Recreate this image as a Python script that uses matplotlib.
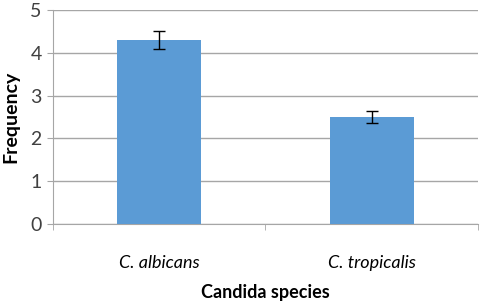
import matplotlib.pyplot as plt
import numpy as np

species = ["C. albicans", "C. tropicalis"]
frequency = [4.3, 2.5]
errors = [0.22, 0.13]

plt.rcParams['font.family'] = ['Lato', 'DejaVu Sans']

fig = plt.figure(figsize=(4.8, 3.06), dpi=100)
ax = fig.add_axes([0.110, 0.268, 0.886, 0.699])

x = np.arange(len(species))
ax.bar(x, frequency, width=0.395, color="#5B9BD5", zorder=3,
       yerr=errors, error_kw=dict(ecolor="black", elinewidth=1, capsize=4, capthick=1))

ax.set_xlim(-0.5, 1.5)
ax.set_ylim(0, 5)
ax.set_yticks(range(6))
ax.yaxis.grid(True, color="#A6A6A6", linewidth=1, zorder=0)

ax.set_xticks(x)
ax.set_xticklabels(species, fontstyle="italic", fontsize=13)
ax.set_xticks([-0.5, 0.5, 1.5], minor=True)
ax.tick_params(axis="x", which="major", length=0, pad=22)
ax.tick_params(axis="x", which="minor", length=4, color="#A6A6A6")
ax.tick_params(axis="y", length=4, color="#A6A6A6", labelsize=14, labelcolor="#404040", pad=4)

for s in ["top", "right"]:
    ax.spines[s].set_visible(False)
for s in ["left", "bottom"]:
    ax.spines[s].set_color("#A6A6A6")

ax.set_xlabel("Candida species", fontweight="bold", fontsize=13, labelpad=10)
ax.set_ylabel("Frequency", fontweight="bold", fontsize=14, labelpad=8)

plt.savefig("out.png", dpi=100)
